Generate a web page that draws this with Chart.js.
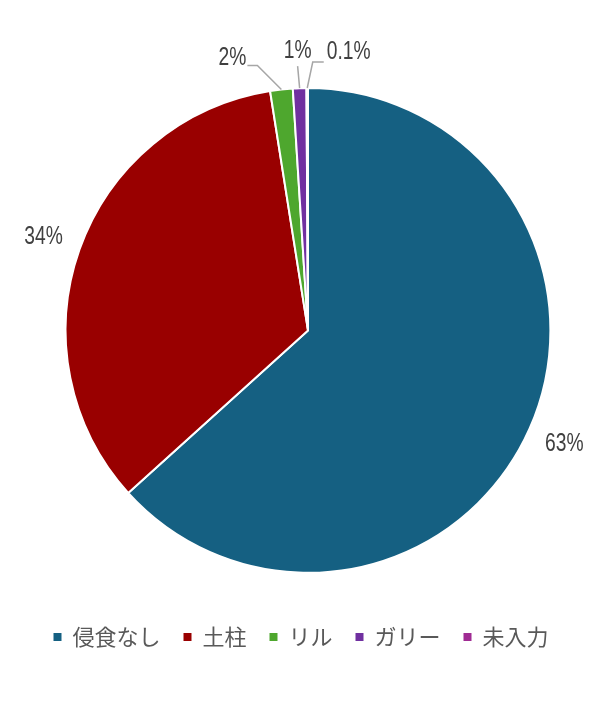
<!DOCTYPE html>
<html>
<head>
<meta charset="utf-8">
<script src="https://cdn.jsdelivr.net/npm/chart.js@4"></script>
<style>
  body { margin: 0; background: #fff; }
  #wrap { width: 610px; height: 726px; }
</style>
</head>
<body>
<div id="wrap"><canvas id="myChart"></canvas></div>
<script>
const categories = ["侵食なし", "土柱", "リル", "ガリー", "未入力"];
const shares = [63.3, 34.2, 1.5, 0.9, 0.1];
const sliceColors = ["#156082", "#990000", "#4ea72e", "#7030a0", "#a02b93"];

const labelFont = '26px "Liberation Sans", Arial, sans-serif';
const labelSqueeze = 0.74; // labels in the original use a narrow face

function pctText(v) {
  return v >= 0.5 ? Math.round(v) + "%" : v.toFixed(1) + "%";
}

// leader lines for the thin slices: elbow relative to slice edge, then a short tail
const leaders = {
  2: { dx: -24, dy: -24, tail: -10, align: "right", gap: -1, rise: -8 },
  3: { dx: -2, dy: -22, tail: 0, align: "center", gap: 0, rise: -15 },
  4: { dx: 5.5, dy: -26, tail: 11, align: "left", gap: 3, rise: -10 },
};

function drawLabel(ctx, text, x, y, align) {
  ctx.save();
  ctx.translate(x, y);
  ctx.scale(labelSqueeze, 1);
  ctx.textAlign = align;
  ctx.fillText(text, 0, 0);
  ctx.restore();
}

const sliceLabels = {
  id: "sliceLabels",
  afterLayout(chart) {
    // nudge the legend row a little left, as in the original
    chart.legend.left -= 7;
    chart.legend.right -= 7;
  },
  afterDatasetsDraw(chart) {
    const ctx = chart.ctx;
    const meta = chart.getDatasetMeta(0);
    meta.data.forEach((arc, i) => {
      const { x, y, startAngle, endAngle, outerRadius } = arc.getProps(
        ["x", "y", "startAngle", "endAngle", "outerRadius"], true);
      const mid = (startAngle + endAngle) / 2;
      const text = pctText(shares[i]);
      const lead = leaders[i];
      ctx.save();
      ctx.font = labelFont;
      ctx.fillStyle = "#404040";
      ctx.textBaseline = "middle";
      if (!lead) {
        const r = outerRadius + 38;
        drawLabel(ctx, text, x + Math.cos(mid) * r, y + Math.sin(mid) * r, "center");
      } else {
        const ex = x + Math.cos(mid) * outerRadius;
        const ey = y + Math.sin(mid) * outerRadius;
        const kx = ex + lead.dx, ky = ey + lead.dy;
        const tx = kx + lead.tail;
        ctx.strokeStyle = "#a6a6a6";
        ctx.lineWidth = 1.5;
        ctx.beginPath();
        ctx.moveTo(ex, ey);
        ctx.lineTo(kx, ky);
        ctx.lineTo(tx, ky);
        ctx.stroke();
        drawLabel(ctx, text, tx + lead.gap, ky + lead.rise, lead.align);
      }
      ctx.restore();
    });
  },
};

const ctx = document.getElementById("myChart");

new Chart(ctx, {
  type: "pie",
  data: {
    labels: categories,
    datasets: [
      {
        data: shares,
        backgroundColor: sliceColors,
        borderColor: "#ffffff",
        borderWidth: 2,
      },
    ],
  },
  options: {
    responsive: true,
    maintainAspectRatio: false,
    animation: false,
    layout: {
      padding: { left: 16, right: 10, top: 87, bottom: 68 },
    },
    plugins: {
      tooltip: { enabled: false },
      legend: {
        position: "bottom",
        title: {
          display: true,
          text: " ",
          font: { size: 1 },
          padding: { top: 0, bottom: 28 },
        },
        labels: {
          boxWidth: 8,
          boxHeight: 8,
          padding: 23,
          color: "#595959",
          font: { family: '"Noto Sans CJK JP", sans-serif', size: 22 },
          generateLabels(chart) {
            const items = Chart.overrides.pie.plugins.legend.labels.generateLabels(chart);
            items.forEach((it) => { it.lineWidth = 0; it.strokeStyle = it.fillStyle; });
            return items;
          },
        },
      },
    },
  },
  plugins: [sliceLabels],
});
</script>
</body>
</html>
